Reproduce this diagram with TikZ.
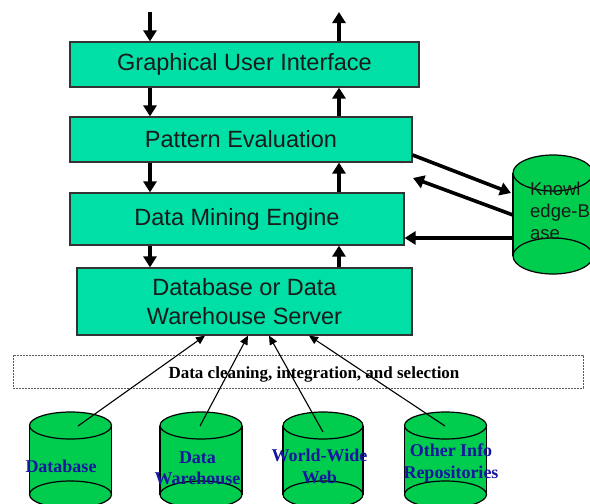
\documentclass[tikz,border=0pt]{standalone}
\usepackage{fontspec}
\setmainfont{Liberation Serif}
\newfontfamily\boxfont{Liberation Sans}
\usetikzlibrary{arrows.meta,calc}
\definecolor{boxfill}{HTML}{00DFA6}
\definecolor{cylfill}{HTML}{00CC4E}
\definecolor{labelblue}{HTML}{16169E}
\definecolor{txt}{HTML}{1A1A1A}
\newcommand{\drawcyl}[5]{% cx, ytop, ybot, rx, ry
  \fill[cylfill] (#1-#4,#2) rectangle (#1+#4,#3);
  \filldraw[cylfill, draw=black, line width=1.2pt] (#1,#3) ellipse [x radius=#4pt, y radius=#5pt];
  \draw[line width=1.2pt] (#1-#4,#2) -- (#1-#4,#3) (#1+#4,#2) -- (#1+#4,#3);
  \filldraw[cylfill, draw=black, line width=1.2pt] (#1,#2) ellipse [x radius=#4pt, y radius=#5pt];
}
\tikzset{
  layer/.style={draw=black!80, line width=1.2pt, fill=boxfill, inner sep=0pt,
    font=\boxfont\fontsize{23.5}{29}\selectfont, text=txt, align=center},
  big/.style={line width=3.6pt, -{Triangle[width=13pt,length=11pt]}},
  thinarrow/.style={line width=1.1pt, -{Triangle[width=8pt,length=9pt]}},
  cyllabel/.style={font=\bfseries\fontsize{18}{21.5}\selectfont, text=labelblue, align=center, inner sep=0pt},
  kbtext/.style={font=\boxfont\fontsize{18.5}{22}\selectfont, text=txt, align=left, inner sep=0pt},
  cleanbox/.style={draw=black!65, line width=1pt, dash pattern=on 2pt off 1pt, inner sep=0pt},
}
\begin{document}
\begin{tikzpicture}[x=1pt,y=-1pt]
\useasboundingbox (0,0) rectangle (590,504);
\clip (0,0) rectangle (590,504);

% layers
\node[layer, minimum width=349pt, minimum height=45pt] (gui) at (244.5,64.5) {Graphical User Interface};
\node[layer, minimum width=342pt, minimum height=45pt] (pe) at (241,139.5) {Pattern Evaluation};
\node[layer, minimum width=334pt, minimum height=52pt] (dme) at (237,219) {Data Mining Engine};
\node[layer, minimum width=335pt, minimum height=67pt] (dbs) at (244.5,301.5) {Database or Data\\Warehouse Server};

% vertical arrows
\coordinate (dn) at (150,12);
\coordinate (up) at (339,12);
\draw[big] (dn) -- (dn |- gui.north);
\draw[big] (up |- gui.north) -- (up);
\draw[big] (dn |- gui.south) -- (dn |- pe.north);
\draw[big] (up |- pe.north) -- (up |- gui.south);
\draw[big] (dn |- pe.south) -- (dn |- dme.north);
\draw[big] (up |- dme.north) -- (up |- pe.south);
\draw[big] (dn |- dme.south) -- (dn |- dbs.north);
\draw[big] (up |- dbs.north) -- (up |- dme.south);

% knowledge base
\drawcyl{553}{173}{256}{40}{18}
\node[kbtext, anchor=west] (kb) at (530,211) {Knowl\\edge-B\\ase};
\coordinate (kbin) at (511,193);
\coordinate (kbout) at (513,215);
\coordinate (kbdme) at (513,238);
\coordinate (peout) at (0,155);
\coordinate (kbfree) at (413,178);
\draw[big] (pe.east |- peout) -- (kbin);
\draw[big] (kbout) -- (kbfree);
\draw[big] (kbdme) -- (dme.east |- kbdme);

% data cleaning box
\node[cleanbox, minimum width=570pt, minimum height=33pt] (clean) at (298,371.5) {};
\node[font=\bfseries\fontsize{17}{20}\selectfont, text=black, inner sep=0pt] (cleantxt) at (314,374) {Data cleaning, integration, and selection};

% source cylinders
\drawcyl{70.5}{425.5}{494.5}{41}{13.5}
\drawcyl{201}{425.5}{494.5}{41}{13.5}
\drawcyl{323}{425.5}{494.5}{40}{13.5}
\drawcyl{445.5}{425.5}{494.5}{41}{13.5}
\node[cyllabel] (src1) at (61,466) {Database};
\node[cyllabel] (src2) at (197.5,468) {Data\\Warehouse};
\node[cyllabel] (src3) at (319.5,466.5) {World-Wide\\Web};
\node[cyllabel] (src4) at (451,463) {Other Info\\Repositories};

% thin connectors
\coordinate (s1) at (78,426);
\coordinate (s2) at (200,426);
\coordinate (s3) at (323,432);
\coordinate (s4) at (445,426);
\coordinate (e1) at (205,0);
\coordinate (e2) at (248,0);
\coordinate (e3) at (269,0);
\coordinate (e4) at (309,0);
\draw[thinarrow] (s1) -- (e1 |- dbs.south);
\draw[thinarrow] (s2) -- (e2 |- dbs.south);
\draw[thinarrow] (s3) -- (e3 |- dbs.south);
\draw[thinarrow] (s4) -- (e4 |- dbs.south);
\end{tikzpicture}
\end{document}
